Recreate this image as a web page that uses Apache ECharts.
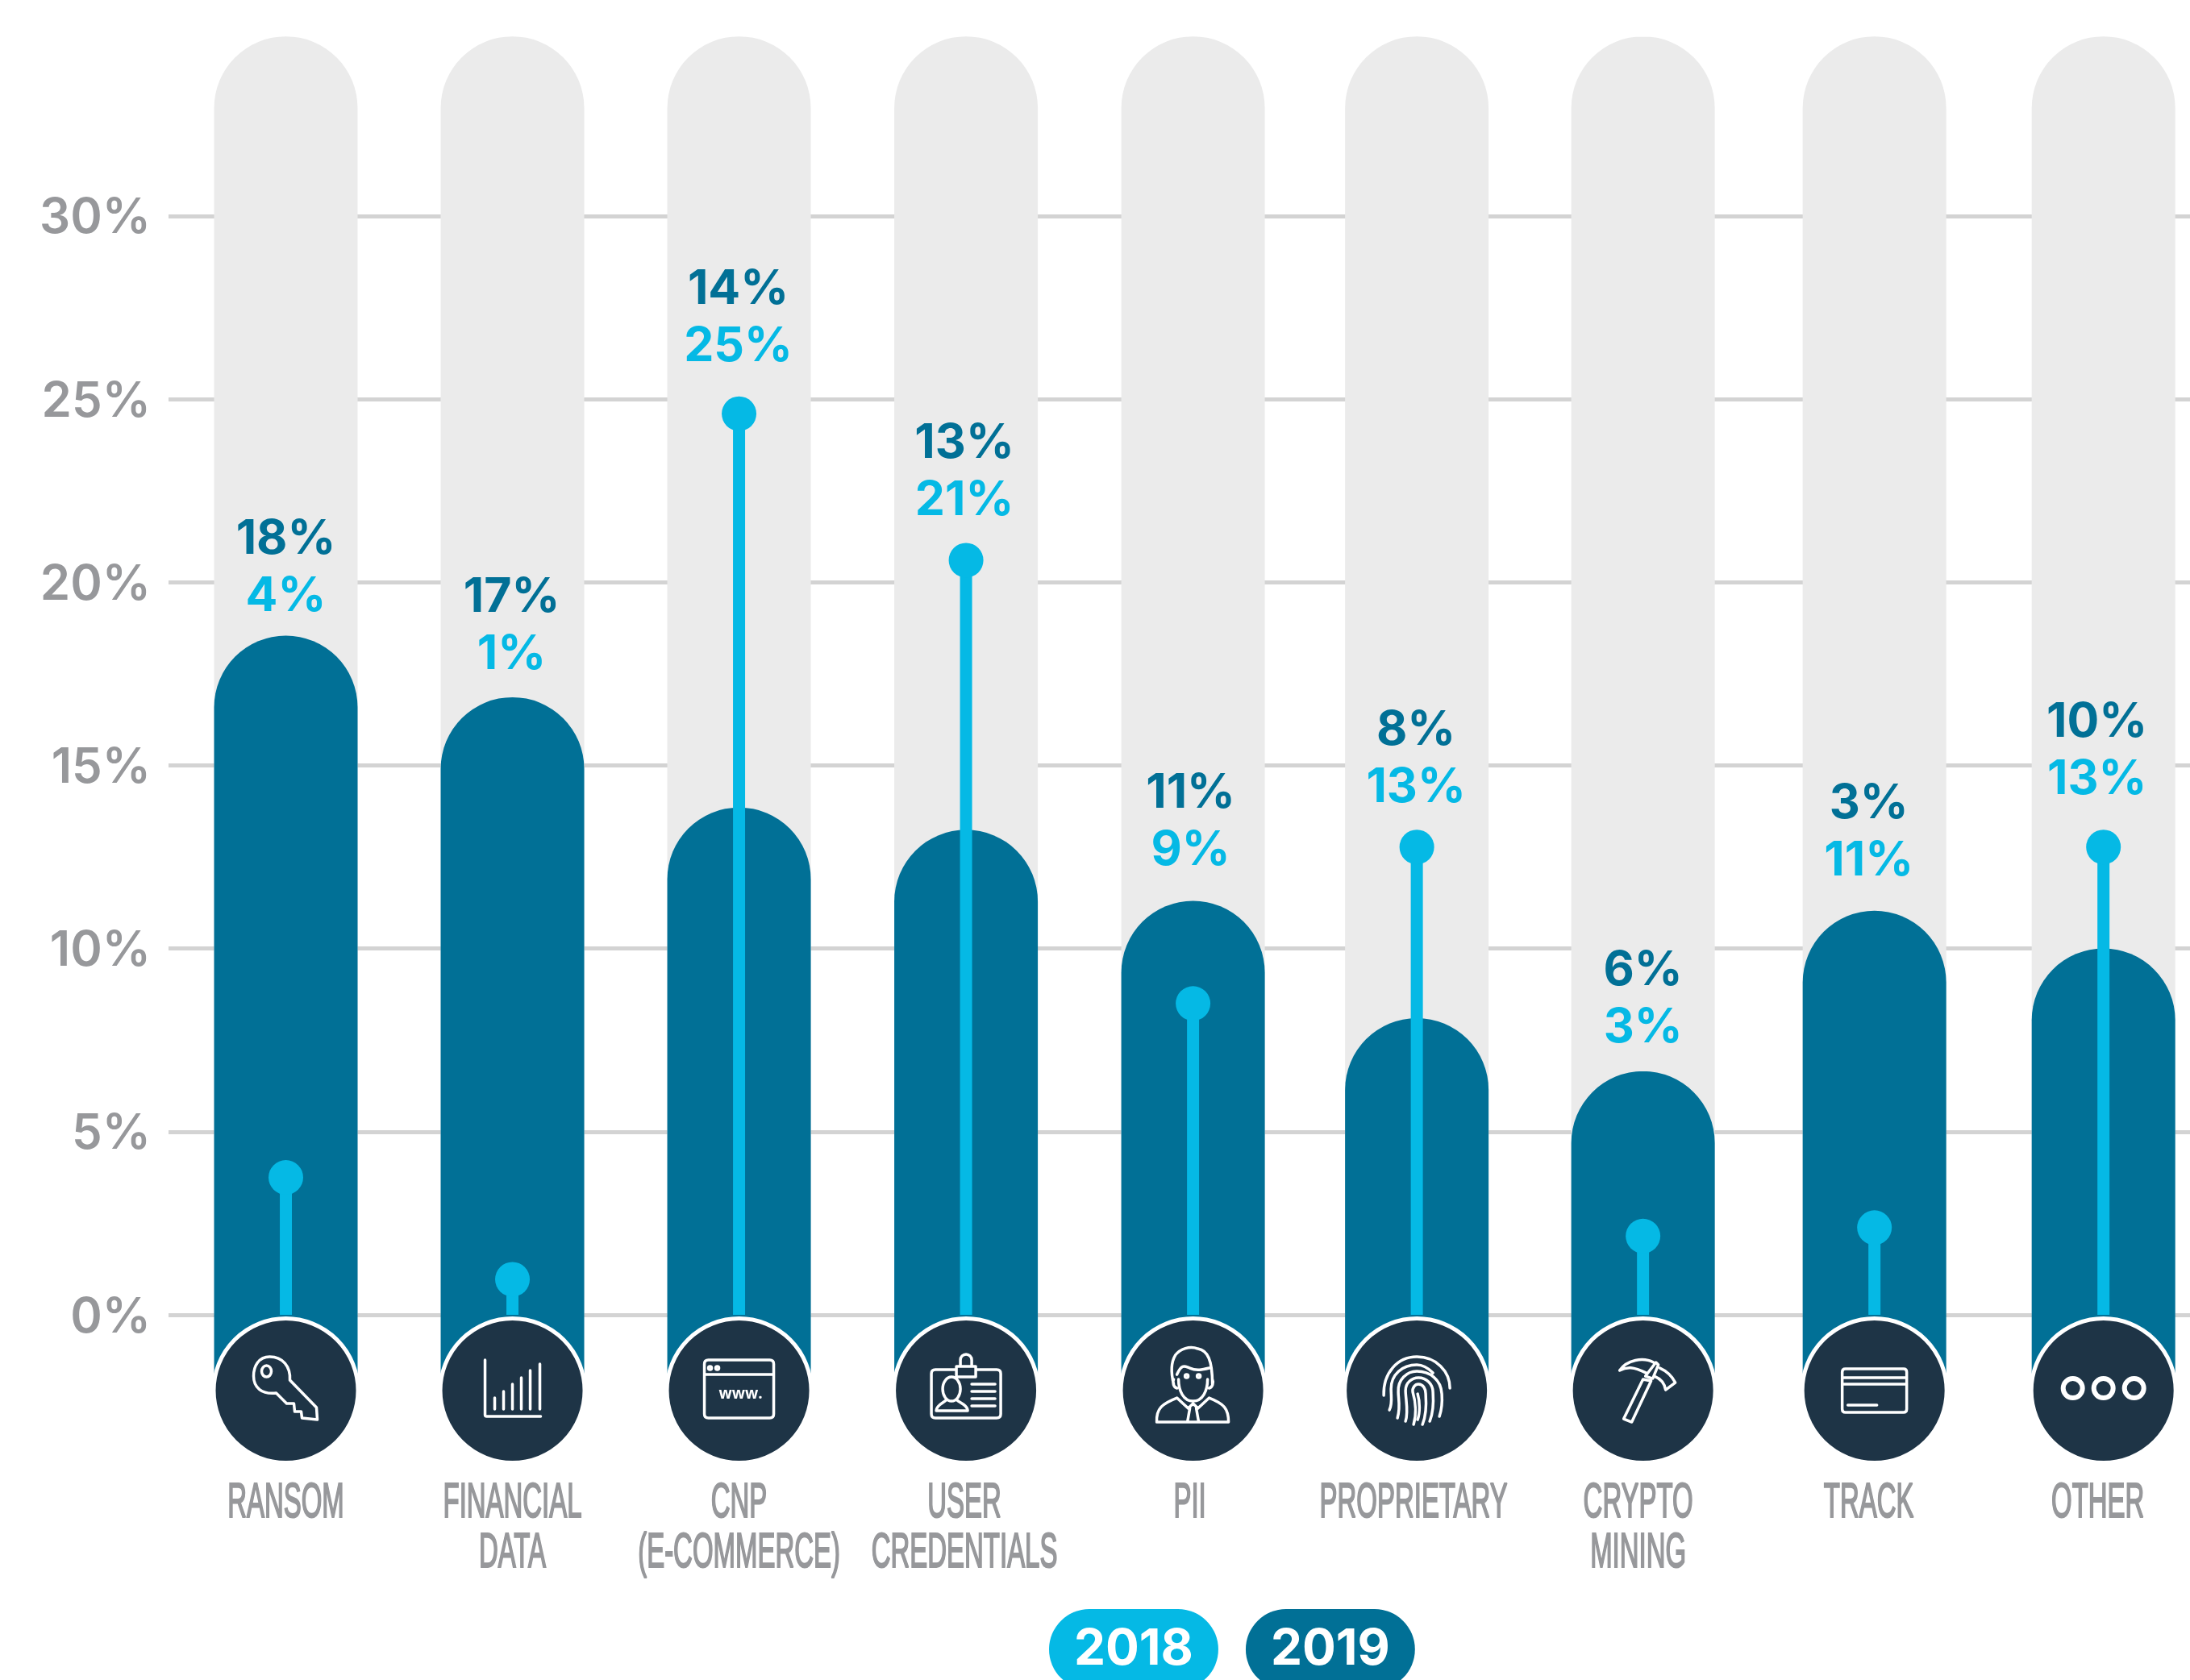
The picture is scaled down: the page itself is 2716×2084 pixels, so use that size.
<!DOCTYPE html>
<html><head><meta charset="utf-8">
<style>html,body{margin:0;padding:0;background:#fff}#c{width:2716px;height:2084px}</style>
<script src="https://cdn.jsdelivr.net/npm/echarts@6/dist/echarts.min.js"></script>
</head><body><div id="c"></div>
<script>
// ---- data ----
const categories = ['RANSOM','FINANCIAL\nDATA','CNP\n(E-COMMERCE)','USER\nCREDENTIALS','PII','PROPRIETARY','CRYPTO\nMINING','TRACK','OTHER'];
const values2019 = [18.54,16.86,13.85,13.24,11.3,8.1,6.65,11.03,10.0];
const values2018 = [3.75,0.97,24.6,20.6,8.5,12.77,2.15,2.38,12.77];
const labels2019 = ['18%','17%','14%','13%','11%','8%','6%','3%','10%'];
const labels2018 = ['4%','1%','25%','21%','9%','13%','3%','11%','13%'];
const axisTicks = [0,5,10,15,20,25,30];

// ---- layout / style (px) ----
const C = {light:'#05b9e5',dark:'#017096',navy:'#1e3446',track:'#ebebeb',grid:'#d3d3d3',text:'#97989b'};
const barHalf = 89, trackTop = 34.9, barFoot = -1.6, badgeAt = -2.07, badgeR = 87, ringW = 5;
const nudge = [4.4,3.2,2,1.3,.6,-4.1,-5.8,-1,.8];
const labelLift = [48,53,83,74,62,73,54,62,83];
const labelDx = [0,-1,-1,-2,-3,-1,0,-7,-8];
const catDx = [0,0,0,-2,-4,-4,-6,-7,-7];
const icons = [
 'M5,-13 C6,-30 -4,-42 -20,-42 C-34,-42 -40,-30 -40,-18 C-40,-4 -30,5 -12,3 L1,16 L10,16 L11,26 L19,26 L20,34 L39,36 L38,21 Z M-18,-24 a6,7 0 1,0 -12,0 a6,7 0 1,0 12,0',
 'M-34,-38 L-34,30 Q-34,32 -32,32 L35,32 M-22,9 L-22,23 M-11,1 L-11,23 M0,-8 L0,23 M11,-16 L11,23 M22,-25 L22,23 M34,-33 L34,23',
 'M-38,-38 L38,-38 Q43,-38 43,-33 L43,29 Q43,34 38,34 L-38,34 Q-43,34 -43,29 L-43,-33 Q-43,-38 -38,-38 Z M-43,-20 L43,-20 M-38,-28 a2,2 0 1,0 4,0 a2,2 0 1,0 -4,0 M-29,-28 a2,2 0 1,0 4,0 a2,2 0 1,0 -4,0',
 'M-12,-26 L-38,-26 Q-43,-26 -43,-21 L-43,29 Q-43,34 -38,34 L38,34 Q43,34 43,29 L43,-21 Q43,-26 38,-26 L12,-26 M-12,-30 L12,-30 L12,-17 L-12,-17 Z M-7,-30 L-7,-38 A7,7 0 0 1 7,-38 L7,-30 M-29,-2 a11,15 0 1,0 22,0 a11,15 0 1,0 -22,0 M-37,25 C-37,18 -28,15 -25,12 M-11,12 C-8,15 2,18 2,25 L-37,25 M7,-8 L36,-8 M7,1 L36,1 M7,10 L36,10 M7,19 L36,19',
 'M-24,-8 C-27,-20 -28,-34 -22,-44 C-16,-52 -4,-56 6,-52 C18,-50 24,-38 24,-8 M-20,-20 C-14,-34 -10,-30 -4,-28 C4,-24 12,-26 20,-28 M-18,-14 C-18,0 -12,13 0,13 C12,13 18,0 18,-14 M-24,-14 C-26,-10 -24,-4 -20,-3 M24,-14 C26,-10 24,-4 20,-3 M-45,39 C-46,22 -38,16 -20,9 L-6,22 L0,16 L6,22 L20,9 C38,16 44,22 44,39 Z M-4,22 L-7,39 M4,22 L7,39 M-10,-18 a2,2 0 1,0 4,0 a2,2 0 1,0 -4,0 M5,-18 a2,2 0 1,0 4,0 a2,2 0 1,0 -4,0',
 'M-41,6 C-42,-22 -24,-42 0,-42 C24,-42 41,-24 41,-3 M-34,24 C-30,16 -32,8 -32,-2 C-32,-20 -18,-32 0,-32 C8,-32 14,-28 20,-22 M-24,34 C-20,20 -23,10 -23,2 C-24,-14 -12,-24 0,-24 C16,-24 30,-14 31,4 C32,18 30,26 28,32 M-14,38 C-10,26 -14,10 -14,0 C-14,-10 -6,-16 2,-16 C12,-16 20,-8 20,2 C21,16 20,28 16,38 M-4,42 C0,28 -2,12 -5,2 C-6,-4 -2,-8 2,-8 C8,-8 11,-2 11,4 C12,18 12,30 7,42 M1,4 C4,14 4,28 1,36',
 'M-24,35 L-14,39 L10,-12 L0,-14 Z M3,-18 L16,-35 L19,-32 L12,-15 Z M13,-35 C0,-42 -20,-38 -29,-25 C-20,-30 -12,-30 4,-22 M21,-28 C30,-24 36,-18 40,-10 L28,-1 C27,-8 24,-14 14,-18',
 'M-36,-27 L36,-27 Q40,-27 40,-23 L40,23 Q40,27 36,27 L-36,27 Q-40,27 -40,23 L-40,-23 Q-40,-27 -36,-27 Z M-40,-16 L40,-16 M-40,-8 L40,-8 M-33,18 L3,18',
 null
];

const chart = echarts.init(document.getElementById('c'), null, {renderer:'canvas'});
const cxOf = (api,i) => api.coord([i,0])[0] + nudge[i];
const yOf = (api,v) => api.coord([0,v])[1];

function columnSeries(name, data, renderItem, z){
  return {type:'custom', name, data:data.map((v,i)=>[i,v]), encode:{x:0,y:1}, renderItem, z, clip:false, silent:true, animation:false};
}

const renderTrack = (p,api) => { const i=p.dataIndex, cx=cxOf(api,i), t=yOf(api,api.value(1)), b=yOf(api,0);
  return {type:'rect', shape:{x:cx-barHalf,y:t,width:barHalf*2,height:b-t,r:[barHalf,barHalf,0,0]}, style:{fill:C.track}}; };
const renderBar = (p,api) => { const i=p.dataIndex, cx=cxOf(api,i), t=yOf(api,api.value(1)), b=yOf(api,barFoot);
  return {type:'rect', shape:{x:cx-barHalf,y:t,width:barHalf*2,height:b-t,r:[barHalf,barHalf,0,0]}, style:{fill:C.dark}}; };
const renderPin = (p,api) => { const i=p.dataIndex, cx=cxOf(api,i), t=yOf(api,api.value(1)), b=yOf(api,0);
  return {type:'group', children:[
    {type:'rect', shape:{x:cx-7.5,y:t,width:15,height:b-t}, style:{fill:C.light}},
    {type:'circle', shape:{cx,cy:t,r:21.5}, style:{fill:C.light}}
  ]}; };
const renderBadge = (p,api) => { const i=p.dataIndex, cx=cxOf(api,i), cy=yOf(api,badgeAt);
  const kids=[{type:'circle', shape:{cx,cy,r:badgeR+ringW/2}, style:{fill:C.navy,stroke:'#fff',lineWidth:ringW}}];
  if(icons[i]) kids.push({type:'path', x:cx, y:cy, shape:{pathData:icons[i]}, style:{fill:null,stroke:'#fff',lineWidth:3.5,lineJoin:'round',lineCap:'round'}});
  if(i===2) kids.push({type:'text', x:cx+2, y:cy+5, style:{text:'www.',font:'700 19px "Open Sans"',fill:'#fff',align:'center',verticalAlign:'middle'}});
  if(i===8) [-38,0,38].forEach(d=>kids.push({type:'circle', shape:{cx:cx+d,cy:cy-3,r:12}, style:{fill:null,stroke:'#fff',lineWidth:6}}));
  categories[i].split('\n').forEach((line,k)=>kids.push({type:'text', x:cx+catDx[i], y:1865+62*k, scaleX:.54,
     style:{text:line,font:'400 61px "Liberation Sans"',fill:C.text,align:'center',verticalAlign:'middle',stroke:C.text,lineWidth:2.2}}));
  return {type:'group', children:kids}; };
const renderLabels = (p,api) => { const i=p.dataIndex, cx=cxOf(api,i)+labelDx[i];
  const anchor=Math.min(yOf(api,values2019[i]),yOf(api,values2018[i])), y=anchor-labelLift[i];
  const font='700 59px Inter';
  return {type:'group', children:[
    {type:'text', x:cx, y:y-71, style:{text:labels2019[i],font,fill:C.dark,align:'center',verticalAlign:'middle'}},
    {type:'text', x:cx, y, style:{text:labels2018[i],font,fill:C.light,align:'center',verticalAlign:'middle'}}
  ]}; };

const pill = (name,color) => ({name, icon:'none', itemStyle:{opacity:0},
  textStyle:{color:'#fff',fontFamily:'Inter',fontWeight:700,fontSize:62,backgroundColor:color,borderRadius:50,padding:[25,31,15,31],lineHeight:60}});

chart.setOption({
  animation:false,
  backgroundColor:'#fff',
  legend:{show:true,left:1296,top:1996,padding:0,itemGap:29,itemWidth:0,itemHeight:0,selectedMode:false,
    data:[pill('2018',C.light),pill('2019',C.dark)]},
  grid:{left:209,top:40.6,width:2540,height:1817.6,containLabel:false,outerBoundsMode:'none'},
  xAxis:{type:'category',data:categories,axisLine:{show:false},axisTick:{show:false},axisLabel:{show:false},splitLine:{show:false}},
  yAxis:{type:'value',min:-5,max:35,interval:5,axisLine:{show:false},axisTick:{show:false},
    axisLabel:{margin:22,
      formatter:v=>axisTicks.includes(v)?'{t|'+v+'%}':'',
      rich:{t:{padding:[7,0,0,0],fontFamily:'Inter',fontWeight:600,fontSize:60,color:C.text,lineHeight:66}}},
    splitLine:{show:true,showMinLine:false,showMaxLine:false,lineStyle:{color:C.grid,width:5}}},
  series:[
    columnSeries('Scale',categories.map(()=>trackTop),renderTrack,1),
    columnSeries('2019',values2019,renderBar,2),
    columnSeries('2018',values2018,renderPin,3),
    columnSeries('Icons',values2019,renderBadge,4),
    columnSeries('Labels',values2019,renderLabels,5)
  ]
});
</script></body></html>
